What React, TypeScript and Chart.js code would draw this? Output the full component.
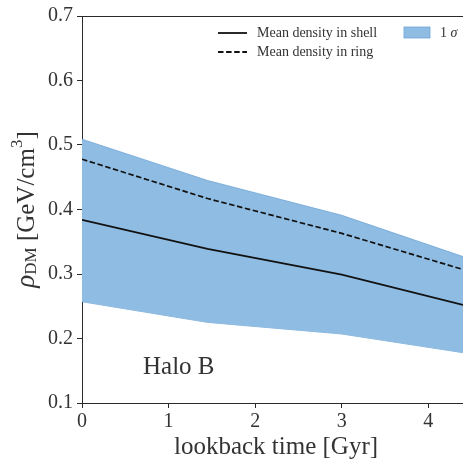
import React, { useEffect, useRef } from "react";
import { Chart, registerables } from "chart.js";

Chart.register(...registerables);

const lookbackTime = [0, 1.45, 3.0, 4.4];
const shellMean = [0.384, 0.339, 0.299, 0.252];
const ringMean = [0.478, 0.417, 0.363, 0.307];
const sigmaUpper = [0.509, 0.445, 0.391, 0.327];
const sigmaLower = [0.257, 0.225, 0.207, 0.178];
const xTicks = [0, 1, 2, 3, 4];
const yTicks = [0.1, 0.2, 0.3, 0.4, 0.5, 0.6, 0.7];
const legendShell = "Mean density in shell";
const legendRing = "Mean density in ring";
const legendSigma = "1";
const xTitle = "lookback time [Gyr]";
const panelLabel = "Halo B";

const SERIF = '"Liberation Serif", "DejaVu Serif", serif';
const INK = "#2a2a2a";
const TEXT = "#333";
const BAND = "rgb(143,188,226)";
const BAND_EDGE = "rgb(110,165,215)";

const pts = (ys: number[]) => lookbackTime.map((x, i) => ({ x, y: ys[i] }));

const decorPlugin = {
  id: "decor",
  afterDraw(chart: any) {
    const ctx = chart.ctx as CanvasRenderingContext2D;
    const a = chart.chartArea;
    ctx.save();
    // top spine
    ctx.strokeStyle = INK;
    ctx.lineWidth = 1;
    ctx.beginPath();
    ctx.moveTo(a.left, a.top + 0.5);
    ctx.lineTo(a.right, a.top + 0.5);
    ctx.stroke();

    ctx.fillStyle = TEXT;
    ctx.textBaseline = "middle";

    // legend
    const lx = a.left + 136;
    ctx.strokeStyle = "#111";
    ctx.lineWidth = 1.8;
    ctx.beginPath();
    ctx.moveTo(lx, a.top + 17);
    ctx.lineTo(lx + 29, a.top + 17);
    ctx.stroke();
    ctx.setLineDash([5.5, 2.6]);
    ctx.beginPath();
    ctx.moveTo(lx, a.top + 36);
    ctx.lineTo(lx + 29, a.top + 36);
    ctx.stroke();
    ctx.setLineDash([]);
    ctx.font = `14px ${SERIF}`;
    ctx.textAlign = "left";
    ctx.fillText(legendShell, lx + 39, a.top + 17);
    ctx.fillText(legendRing, lx + 39, a.top + 36);
    ctx.fillStyle = BAND;
    ctx.fillRect(a.left + 322, a.top + 11, 26, 11);
    ctx.strokeStyle = BAND_EDGE;
    ctx.lineWidth = 0.8;
    ctx.strokeRect(a.left + 322, a.top + 11, 26, 11);
    ctx.fillStyle = TEXT;
    ctx.fillText(legendSigma, a.left + 358, a.top + 17);
    const w1 = ctx.measureText(legendSigma + " ").width;
    ctx.font = `italic 14px ${SERIF}`;
    ctx.fillText("σ", a.left + 358 + w1, a.top + 17);

    // panel label
    ctx.font = `25px ${SERIF}`;
    ctx.fillText(panelLabel, a.left + 61, a.top + 351);

    // x title
    ctx.font = `25px ${SERIF}`;
    ctx.textAlign = "center";
    ctx.fillText(xTitle, 276, a.bottom + 44);

    // y title (rotated)
    ctx.translate(27, (a.top + a.bottom) / 2);
    ctx.rotate(-Math.PI / 2);
    const parts = [
      { t: "ρ", f: `italic 27px ${SERIF}`, dy: 0 },
      { t: "DM", f: `17px ${SERIF}`, dy: 5 },
      { t: " [GeV/cm", f: `25px ${SERIF}`, dy: 0 },
      { t: "3", f: `17px ${SERIF}`, dy: -9 },
      { t: "]", f: `25px ${SERIF}`, dy: 0 },
    ];
    let total = 0;
    for (const p of parts) {
      ctx.font = p.f;
      total += ctx.measureText(p.t).width;
    }
    let x = -total / 2;
    ctx.textAlign = "left";
    for (const p of parts) {
      ctx.font = p.f;
      ctx.fillText(p.t, x, p.dy);
      x += ctx.measureText(p.t).width;
    }
    ctx.restore();
  },
};

export default function App() {
  const ref = useRef<HTMLCanvasElement | null>(null);

  useEffect(() => {
    document.body.style.margin = "0";
    const canvas = ref.current!;
    const chart = new Chart(canvas, {
      type: "line",
      data: {
        datasets: [
          {
            label: legendShell,
            data: pts(shellMean),
            borderColor: "#111",
            borderWidth: 1.8,
            pointRadius: 0,
            fill: false,
            tension: 0,
          },
          {
            label: legendRing,
            data: pts(ringMean),
            borderColor: "#111",
            borderWidth: 1.7,
            borderDash: [5.5, 2.6],
            pointRadius: 0,
            fill: false,
            tension: 0,
          },
          {
            label: "upper",
            data: pts(sigmaUpper),
            borderColor: BAND_EDGE,
            borderWidth: 0.8,
            backgroundColor: BAND,
            pointRadius: 0,
            fill: "+1",
            tension: 0,
          },
          {
            label: "lower",
            data: pts(sigmaLower),
            borderColor: BAND_EDGE,
            borderWidth: 0.8,
            backgroundColor: BAND,
            pointRadius: 0,
            fill: false,
            tension: 0,
          },
        ],
      },
      options: {
        responsive: false,
        animation: false,
        layout: { padding: { top: 12, left: 0, right: 0, bottom: 0 } },
        plugins: { legend: { display: false }, tooltip: { enabled: false } },
        scales: {
          x: {
            type: "linear",
            min: 0,
            max: 4.4,
            afterFit: (s: any) => {
              s.height = 59;
            },
            afterBuildTicks: (s: any) => {
              s.ticks = xTicks.map((v) => ({ value: v }));
            },
            ticks: {
              includeBounds: false,
              color: TEXT,
              font: { family: SERIF, size: 20 },
              padding: 2,
              maxRotation: 0,
              callback: (v: any) => String(v),
            },
            grid: { drawOnChartArea: false, drawTicks: true, tickLength: 5, color: INK, lineWidth: 1 },
            border: { display: true, color: INK, width: 1 },
          },
          y: {
            type: "linear",
            min: 0.1,
            max: 0.7,
            afterFit: (s: any) => {
              s.width = 82;
            },
            afterBuildTicks: (s: any) => {
              s.ticks = yTicks.map((v) => ({ value: v }));
            },
            ticks: {
              color: TEXT,
              font: { family: SERIF, size: 20 },
              padding: 4,
              callback: (v: any) => Number(v).toFixed(1),
            },
            grid: { drawOnChartArea: false, drawTicks: true, tickLength: 5, color: INK, lineWidth: 1 },
            border: { display: true, color: INK, width: 1 },
          },
        },
      },
      plugins: [decorPlugin],
    });
    return () => chart.destroy();
  }, []);

  return <canvas ref={ref} width={463} height={462} style={{ display: "block" }} />;
}
